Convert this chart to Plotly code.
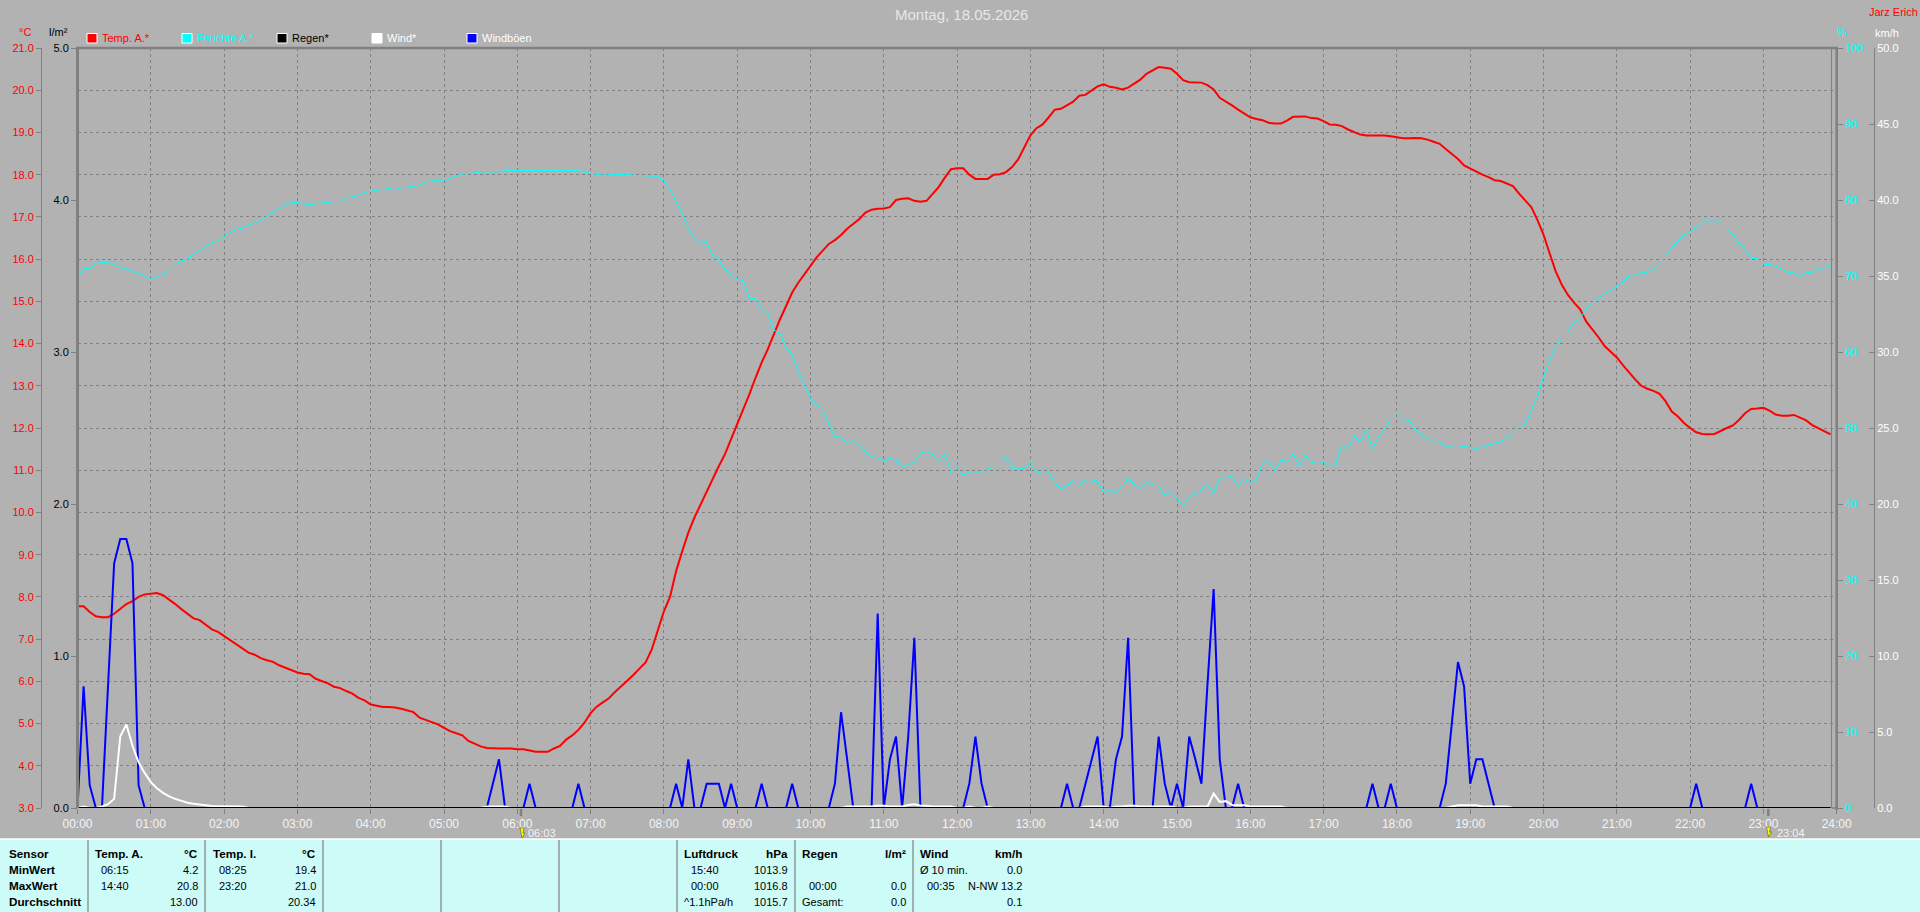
import plotly.graph_objects as go

temp_values = [
    7.78,7.78,7.64,7.54,7.52,7.52,7.6,7.72,7.83,7.9,8.0,8.06,
    8.07,8.09,8.04,7.94,7.83,7.71,7.6,7.49,7.45,7.34,7.23,7.17,
    7.07,6.97,6.87,6.79,6.68,6.63,6.55,6.5,6.46,6.38,6.32,6.26,
    6.21,6.18,6.17,6.06,6.01,5.95,5.87,5.84,5.77,5.71,5.61,5.55,
    5.45,5.42,5.39,5.39,5.38,5.35,5.31,5.27,5.14,5.09,5.04,4.98,
    4.9,4.82,4.77,4.72,4.59,4.52,4.46,4.42,4.41,4.41,4.41,4.41,
    4.39,4.39,4.36,4.33,4.33,4.33,4.41,4.47,4.62,4.72,4.85,5.02,
    5.25,5.4,5.5,5.6,5.75,5.88,6.02,6.15,6.3,6.45,6.75,7.2,
    7.66,8.0,8.61,9.08,9.52,9.88,10.19,10.47,10.78,11.1,11.38,11.73,
    12.09,12.44,12.8,13.19,13.55,13.86,14.22,14.57,14.89,15.21,15.44,15.63,
    15.84,16.04,16.19,16.36,16.45,16.57,16.72,16.83,16.95,17.1,17.17,17.19,
    17.2,17.23,17.4,17.43,17.44,17.38,17.36,17.38,17.54,17.71,17.93,18.13,
    18.15,18.15,18.0,17.9,17.9,17.9,18.0,18.01,18.06,18.18,18.36,18.63,
    18.93,19.1,19.19,19.36,19.54,19.56,19.64,19.73,19.87,19.89,19.99,20.09,
    20.14,20.08,20.06,20.02,20.06,20.16,20.25,20.39,20.47,20.55,20.53,20.51,
    20.39,20.24,20.19,20.18,20.18,20.12,20.02,19.82,19.74,19.64,19.54,19.45,
    19.36,19.32,19.29,19.23,19.21,19.21,19.28,19.37,19.38,19.38,19.34,19.33,
    19.27,19.19,19.18,19.15,19.07,19.0,18.95,18.93,18.93,18.93,18.93,18.91,
    18.88,18.86,18.86,18.87,18.86,18.83,18.78,18.73,18.61,18.5,18.37,18.22,
    18.14,18.06,18.0,17.94,17.87,17.85,17.79,17.73,17.55,17.4,17.23,16.93,
    16.58,16.14,15.71,15.39,15.15,14.97,14.81,14.52,14.34,14.15,13.94,13.81,
    13.67,13.49,13.31,13.15,13.0,12.93,12.88,12.81,12.63,12.39,12.27,12.12,
    12.0,11.9,11.86,11.85,11.86,11.94,12.0,12.06,12.19,12.35,12.45,12.46,
    12.48,12.41,12.32,12.29,12.29,12.31,12.24,12.18,12.07,12.0,11.92,11.85,
]

humidity_values = [
    69.9,71.0,71.0,71.6,71.8,71.8,71.5,71.1,70.9,70.6,70.3,69.9,
    69.7,69.8,70.3,70.7,71.5,72.0,72.2,72.9,73.4,73.9,74.4,74.6,
    75.2,75.75,76.1,76.3,76.7,77.0,77.3,77.9,78.4,78.9,79.4,79.7,
    79.7,79.5,79.35,79.5,79.6,79.75,79.8,79.8,80.3,80.4,80.6,81.0,
    81.2,81.3,81.4,81.5,81.3,81.6,81.7,81.8,82.0,82.4,82.5,82.6,
    82.6,82.85,83.15,83.4,83.5,83.55,83.7,83.7,83.7,83.7,83.9,83.9,
    83.9,83.9,83.9,83.9,83.9,83.9,83.9,83.9,83.9,83.9,83.9,83.65,
    83.5,83.35,83.25,83.3,83.4,83.35,83.4,83.25,83.2,83.15,83.15,83.15,
    82.4,81.4,79.8,78.25,76.3,74.95,74.5,74.4,72.7,72.1,70.9,70.1,
    69.6,69.4,67.05,67.05,65.6,65.0,62.9,62.45,60.5,59.7,57.4,55.7,
    53.9,53.0,52.5,50.6,48.8,49.0,47.85,48.4,47.6,46.9,46.2,46.1,
    45.7,46.0,45.8,44.9,45.2,45.45,46.7,46.9,46.5,45.5,46.6,44.1,
    44.8,43.8,44.2,44.3,43.9,44.7,44.5,45.2,46.2,44.7,44.6,44.7,
    45.5,44.0,44.3,44.2,42.8,42.0,42.4,43.1,42.3,43.2,43.2,43.0,
    41.5,41.9,41.5,42.3,43.4,42.6,42.1,42.85,42.5,42.4,41.2,41.6,
    40.7,39.7,41.0,41.3,41.9,42.6,41.4,43.4,43.5,43.7,42.3,43.3,
    42.85,43.2,45.4,45.7,44.4,45.8,45.5,46.6,45.0,46.5,45.4,45.6,
    45.5,45.0,45.2,47.7,47.3,48.9,48.2,49.8,47.3,48.9,49.9,51.2,
    51.9,51.1,51.0,49.8,49.0,48.6,48.2,48.2,47.5,47.5,47.4,47.6,
    47.4,47.3,47.5,47.8,48.0,48.2,48.8,49.3,50.2,50.5,52.3,54.1,
    56.7,58.9,60.7,61.8,62.65,63.9,64.4,65.7,66.4,67.1,67.7,68.1,
    68.7,69.2,70.0,70.1,70.4,70.5,70.9,71.7,72.6,73.8,74.6,75.4,
    75.8,76.5,77.1,77.4,77.4,76.9,76.1,75.5,74.3,73.5,72.3,72.3,
    71.55,71.5,71.3,70.9,70.5,70.4,70.0,70.4,70.5,71.0,71.1,71.3,
]

gust_values = [
    0,8.0,1.5,0,0,8.4,16.1,17.7,17.7,16.1,1.5,0,
    0,0,0,0,0,0,0,0,0,0,0,0,
    0,0,0,0,0,0,0,0,0,0,0,0,
    0,0,0,0,0,0,0,0,0,0,0,0,
    0,0,0,0,0,0,0,0,0,0,0,0,
    0,0,0,0,0,0,0,0,1.6,3.2,0,0,
    0,0,1.6,0,0,0,0,0,0,0,1.6,0,
    0,0,0,0,0,0,0,0,0,0,0,0,
    0,0,1.6,0,3.2,0,0,1.6,1.6,1.6,0,1.6,
    0,0,0,0,1.6,0,0,0,0,1.6,0,0,
    0,0,0,0,1.6,6.3,3.2,0,0,0,0,12.8,
    0,3.2,4.7,0,4.7,11.2,0,0,0,0,0,0,
    0,0,1.6,4.7,1.6,0,0,0,0,0,0,0,
    0,0,0,0,0,0,1.6,0,0,1.6,3.2,4.7,
    0,0,3.2,4.7,11.2,0,0,0,0,4.7,1.6,0,
    1.6,0,4.7,3.2,1.6,8.2,14.4,3.2,0,0,1.6,0,
    0,0,0,0,0,0,0,0,0,0,0,0,
    0,0,0,0,0,0,0,0,1.6,0,0,1.6,
    0,0,0,0,0,0,0,0,1.6,5.5,9.6,8.0,
    1.6,3.2,3.2,1.6,0,0,0,0,0,0,0,0,
    0,0,0,0,0,0,0,0,0,0,0,0,
    0,0,0,0,0,0,0,0,0,0,0,0,
    0,1.6,0,0,0,0,0,0,0,0,1.6,0,
    0,0,0,0,0,0,0,0,0,0,0,0,
]

wind_values = [
    0,0.1,0,0,0.1,0.25,0.6,4.7,5.5,4.1,3.0,2.3,
    1.7,1.3,1.0,0.77,0.6,0.45,0.35,0.28,0.25,0.18,0.13,0.13,
    0.13,0.12,0.1,0.1,0,0,0,0,0,0,0,0,
    0,0,0,0,0,0,0,0,0,0,0,0,
    0,0,0,0,0,0,0,0,0,0,0,0,
    0,0,0,0,0,0,0,0.1,0.1,0.1,0.1,0,
    0,0,0,0,0,0,0,0,0,0,0,0,
    0,0,0,0,0,0,0,0,0,0,0,0,
    0,0,0,0,0,0,0,0,0,0,0,0,
    0,0,0,0,0,0,0,0,0,0,0,0,
    0,0,0,0,0,0,0.1,0.1,0.1,0.1,0.1,0.15,
    0.15,0.1,0.1,0.1,0.2,0.25,0.15,0.15,0.1,0.1,0.1,0.1,
    0,0,0.1,0,0,0.1,0,0,0,0,0,0,
    0,0,0,0,0,0,0,0,0,0.1,0.1,0.1,
    0.1,0,0.1,0.1,0.15,0.15,0.1,0.1,0.1,0.1,0.1,0.1,
    0,0,0.1,0.1,0.1,0.1,0.95,0.4,0.45,0.2,0.18,0.18,
    0.12,0.1,0.1,0.1,0.1,0.1,0,0,0,0,0,0,
    0,0,0,0,0,0,0,0,0,0,0,0,
    0,0,0,0,0,0,0,0,0,0.1,0.18,0.18,
    0.18,0.18,0.1,0.1,0.1,0.1,0.1,0,0,0,0,0,
    0,0,0,0,0,0,0,0,0,0,0,0,
    0,0,0,0,0,0,0,0,0,0,0,0,
    0,0,0,0,0,0,0,0,0,0,0,0,
    0,0,0,0,0,0,0,0,0,0,0,0,
]

rain_values = [0.0] * 288
hours = [i / 12 for i in range(288)]

hour_ticks = list(range(25))
hour_labels = [f"{h:02d}:00" for h in hour_ticks]

legend_names = ["Temp. A.*", "Feuchte A.*", "Regen*", "Wind*", "Windböen"]
legend_colors = ["#FF0000", "#00FFFF", "#000000", "#FFFFFF", "#0000FF"]
legend_text_colors = ["#FF0000", "#00FFFF", "#000000", "#FFFFFF", "#FFFFFF"]
legend_x = [87, 182, 277, 372, 467]

table_rows_y = [853.3, 869.7, 885.7, 901.7]
table_dividers = [88, 205, 323, 441, 559, 677, 795, 913]
table_row_labels = ["Sensor", "MinWert", "MaxWert", "Durchschnitt"]
# (left text, left x, right text, right x, row, bold)
table_cells = [
    ("Temp. A.", 95, "°C", 198, 0, True),
    ("06:15", 101, "4.2", 198, 1, False),
    ("14:40", 101, "20.8", 198, 2, False),
    ("", 101, "13.00", 198, 3, False),
    ("Temp. I.", 213, "°C", 316, 0, True),
    ("08:25", 219, "19.4", 316, 1, False),
    ("23:20", 219, "21.0", 316, 2, False),
    ("", 219, "20.34", 316, 3, False),
    ("Luftdruck", 684, "hPa", 788, 0, True),
    ("15:40", 691, "1013.9", 788, 1, False),
    ("00:00", 691, "1016.8", 788, 2, False),
    ("^1.1hPa/h", 684, "1015.7", 788, 3, False),
    ("Regen", 802, "l/m²", 906, 0, True),
    ("00:00", 809, "0.0", 906, 2, False),
    ("Gesamt:", 802, "0.0", 906, 3, False),
    ("Wind", 920, "km/h", 1022, 0, True),
    ("Ø 10 min.", 920, "0.0", 1022, 1, False),
    ("00:35", 927, "N-NW 13.2", 1022, 2, False),
    ("", 927, "0.1", 1022, 3, False),
]

sun_marks = [(6.05, "06:03", 528, 522, 833), (23.0667, "23:04", 1777, 1768.5, 832)]

W, H = 1920, 912
BG = "#B2B2B2"
AXIS = "#808080"
FONT = "Liberation Sans"
L, R, T, B = 77.5, 1836.7, 48.0, 808.0


def px(x):
    return x / W


def py(y):
    return 1 - y / H


fig = go.Figure()
fig.add_trace(go.Scatter(x=hours, y=temp_values, yaxis="y", mode="lines",
                         line=dict(color="#FF0000", width=2), name="Temp. A.*"))
fig.add_trace(go.Scatter(x=hours, y=humidity_values, yaxis="y2", mode="lines",
                         line=dict(color="#00FFFF", width=1), name="Feuchte A.*"))
fig.add_trace(go.Scatter(x=hours, y=gust_values, yaxis="y3", mode="lines",
                         line=dict(color="#0000FF", width=2), name="Windböen"))
fig.add_trace(go.Scatter(x=hours, y=wind_values, yaxis="y3", mode="lines",
                         line=dict(color="#FFFFFF", width=2), name="Wind*"))
fig.add_trace(go.Scatter(x=hours, y=rain_values, yaxis="y4", mode="lines",
                         line=dict(color="#000000", width=2), name="Regen*", cliponaxis=False))

shapes = []
annotations = []


def rect(x0, y0, x1, y1, fill, line=None, lw=0):
    shapes.append(dict(type="rect", xref="paper", yref="paper",
                       x0=px(x0), x1=px(x1), y0=py(y0), y1=py(y1), fillcolor=fill,
                       line=dict(color=line or fill, width=lw), layer="above"))


def vline(x, y0, y1, color=AXIS, width=1):
    shapes.append(dict(type="line", xref="paper", yref="paper", x0=px(x), x1=px(x),
                       y0=py(y0), y1=py(y1), line=dict(color=color, width=width)))


def hline(x0, x1, y, color=AXIS, width=1):
    shapes.append(dict(type="line", xref="paper", yref="paper", x0=px(x0), x1=px(x1),
                       y0=py(y), y1=py(y), line=dict(color=color, width=width)))


def text(s, x, y, color="#000000", size=11, anchor="left", bold=False):
    annotations.append(dict(text=f"<b>{s}</b>" if bold else s, xref="paper", yref="paper",
                            x=px(x), y=py(y), xanchor=anchor, yanchor="middle", showarrow=False,
                            font=dict(family=FONT, size=size, color=color),
                            borderpad=0, borderwidth=0))


# plot frame
vline(77.5, 47, 808, width=3)
hline(76, 1838, 48, width=2.5)
vline(1831.5, 48, 808, width=1)
vline(1836.7, 47, 810, width=2.5)
hline(1832, 1836, 808, width=1.5)

# title, units, author
text("Montag, 18.05.2026", 961, 14.5, "#E8E8E8", 15, "center")
text("Jarz Erich", 1893, 12, "#FF0000", 11, "center")
text("°C", 25, 32, "#FF0000", 11, "center")
text("l/m²", 58, 32, "#000000", 11, "center")
text("%", 1842, 32, "#00FFFF", 11, "center")
text("km/h", 1887, 33, "#FFFFFF", 11, "center")

# hand-drawn legend row
for name, col, tcol, lx in zip(legend_names, legend_colors, legend_text_colors, legend_x):
    rect(lx, 33.5, lx + 10, 43, col, "#FFFFFF", 1)
    text(name, lx + 15, 38, tcol, 11)

# sunrise / sunset
for h, label, tx, ix, iy in sun_marks:
    sx = L + (R - L) * h / 24
    vline(sx, 809, 816, width=2.5)
    shapes.append(dict(type="path", xref="paper", yref="paper",
                       path=f"M {px(ix-2)} {py(iy-5)} L {px(ix+2)} {py(iy-5)} L {px(ix+1)} {py(iy)} "
                            f"L {px(ix+3)} {py(iy)} L {px(ix)} {py(iy+5)} L {px(ix-1)} {py(iy)} Z",
                       fillcolor="#FFFF00", line=dict(color="#404000", width=0.5)))
    text(label, tx, 833, "#F4F4F4", 11)

# table strip
rect(0, 839, 1920, 912, "#CCFBF8")
hline(0, 1920, 839, "#FFFFFF", 1.5)
for dx in table_dividers:
    vline(dx, 840, 912, "#808080", 1.2)
for label, ry in zip(table_row_labels, table_rows_y):
    text(label, 8.5, ry, "#000000", 11.7, "left", True)
for left, lx, right, rx, row, bold in table_cells:
    size = 11.7 if bold else 11
    if left:
        text(left, lx, table_rows_y[row], "#000000", size, "left", bold)
    text(right, rx, table_rows_y[row], "#000000", size, "right", bold)

tickfont = dict(family=FONT, size=11)
fig.update_layout(
    width=W, height=H, margin=dict(l=0, r=0, t=0, b=0, pad=0, autoexpand=False),
    paper_bgcolor=BG, plot_bgcolor=BG, showlegend=False, hovermode=False,
    shapes=shapes, annotations=annotations,
    xaxis=dict(domain=[px(L), px(R)], range=[0, 24], tickmode="array", tickvals=hour_ticks,
               ticktext=hour_labels, ticks="outside", ticklen=5, tickcolor=AXIS, tickwidth=1,
               showgrid=True, gridcolor=AXIS, griddash="3px,3px", gridwidth=1, zeroline=False,
               showline=False, anchor="y",
               tickfont=dict(family=FONT, size=12, color="#F4F4F4")),
    yaxis=dict(domain=[py(B), py(T)], range=[3, 21], tickmode="array",
               tickvals=list(range(3, 22)), ticktext=[f"{v}.0" for v in range(3, 22)],
               side="left", anchor="free", position=px(41), ticks="outside", ticklen=5,
               tickcolor=AXIS, showline=True, linecolor=AXIS, linewidth=1,
               showgrid=True, gridcolor=AXIS, griddash="3px,3px", gridwidth=1, zeroline=False,
               tickfont=dict(tickfont, color="#FF0000")),
    yaxis2=dict(domain=[py(B), py(T)], range=[0, 100], dtick=10, overlaying="y",
                side="right", anchor="free", position=px(1837), ticks="outside", ticklen=5,
                tickcolor=AXIS, showgrid=False, zeroline=False, showline=False,
                tickfont=dict(tickfont, color="#00FFFF")),
    yaxis3=dict(domain=[py(B), py(T)], range=[0, 50], dtick=5, tickformat=".1f", overlaying="y",
                side="right", anchor="free", position=px(1874), ticks="inside", ticklen=5,
                tickcolor=AXIS, showgrid=False, zeroline=False, showline=True, linecolor=AXIS,
                linewidth=1, tickfont=dict(tickfont, color="#FFFFFF")),
    yaxis4=dict(domain=[py(B), py(T)], range=[0, 5], dtick=1, tickformat=".1f", overlaying="y",
                side="left", anchor="free", position=px(77), ticks="outside", ticklen=6,
                tickcolor=AXIS, showgrid=False, zeroline=False, showline=False,
                tickfont=dict(tickfont, color="#000000")),
)

fig.write_html(
    "out.html",
    config={"displayModeBar": False, "staticPlot": True},
    post_script="document.body.style.margin='0';document.body.style.overflow='hidden';"
                "document.body.style.background='#B2B2B2';",
)
